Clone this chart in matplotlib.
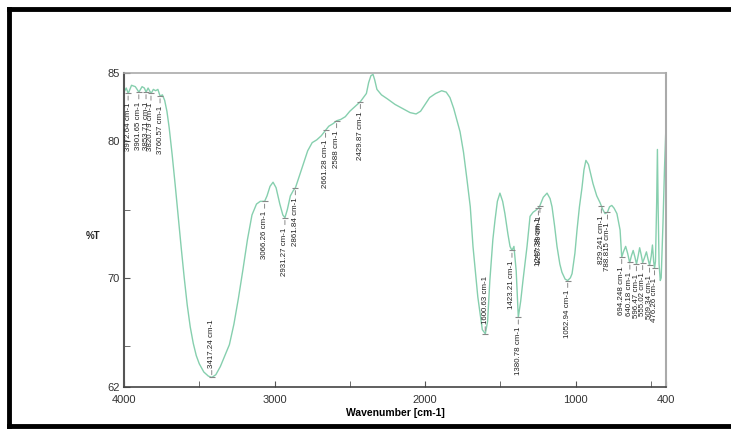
import numpy as np
import matplotlib.pyplot as plt
from matplotlib.lines import Line2D

# spectrum (wavenumber cm-1, %T)
wavenumber = [4000, 3985, 3972, 3950, 3925, 3901, 3880, 3865, 3853, 3840, 3820, 3805,
              3790, 3775, 3760, 3745, 3730, 3715, 3700, 3680, 3660, 3640, 3620, 3600,
              3580, 3560, 3540, 3520, 3500, 3470, 3440, 3417, 3390, 3360, 3330, 3300,
              3270, 3240, 3210, 3180, 3150, 3120, 3095, 3066, 3050, 3030, 3010, 2990,
              2965, 2945, 2931, 2915, 2895, 2875, 2861, 2840, 2810, 2780, 2750, 2720,
              2690, 2661, 2640, 2610, 2588, 2560, 2530, 2500, 2470, 2430, 2410, 2390,
              2375, 2360, 2346, 2335, 2320, 2290, 2250, 2200, 2150, 2100, 2060, 2030,
              2000, 1970, 1930, 1890, 1860, 1835, 1810, 1790, 1768, 1745, 1722, 1700,
              1682, 1650, 1620, 1600, 1585, 1570, 1550, 1536, 1520, 1503, 1485, 1470,
              1450, 1436, 1423, 1410, 1395, 1381, 1365, 1350, 1323, 1303, 1283, 1270,
              1247, 1237, 1215, 1190, 1170, 1157, 1140, 1124, 1105, 1091, 1070, 1053,
              1035, 1024, 1005, 991, 975, 958, 945, 932, 915, 900, 885, 860,
              838, 820, 805, 789, 775, 760, 745, 726, 705, 694, 683, 668,
              655, 641, 630, 618, 606, 596, 585, 575, 565, 555, 542, 530,
              520, 509, 498, 490, 482, 476, 470, 462, 457, 452, 446, 438,
              432, 420, 410, 400]
transmittance = [83.6, 83.9, 83.5, 84.1, 84.0, 83.6, 84.0, 83.9, 83.6, 83.9, 83.5, 83.8,
                 83.7, 83.8, 83.3, 83.4, 83.0, 82.2, 81.0, 79.0, 76.8, 74.5, 72.2, 70.0,
                 68.0, 66.4, 65.2, 64.3, 63.7, 63.1, 62.8, 62.7, 62.9, 63.5, 64.3, 65.1,
                 66.6, 68.5, 70.6, 72.8, 74.6, 75.4, 75.6, 75.6, 76.0, 76.7, 77.0, 76.6,
                 75.4, 74.6, 74.4, 75.0, 76.0, 76.4, 76.6, 77.3, 78.3, 79.3, 79.9, 80.1,
                 80.4, 80.8, 81.1, 81.3, 81.5, 81.6, 81.8, 82.2, 82.5, 82.9, 83.2, 83.5,
                 84.3, 84.8, 84.9, 84.5, 83.8, 83.4, 83.1, 82.7, 82.4, 82.1, 82.0, 82.2,
                 82.7, 83.2, 83.5, 83.7, 83.6, 83.2, 82.4, 81.6, 80.7, 79.2, 77.2, 75.2,
                 72.3, 68.6, 66.2, 65.9, 66.8, 69.8, 72.8, 74.2, 75.6, 76.2, 75.6, 74.7,
                 73.2, 72.3, 72.0, 72.3, 70.5, 67.1, 68.3, 69.8, 72.3, 74.5, 74.8, 74.9,
                 75.1, 75.3, 75.9, 76.2, 75.8, 75.2, 73.8, 72.3, 71.0, 70.4, 69.9, 69.8,
                 70.0, 70.3, 71.8, 73.5, 75.2, 76.6, 77.9, 78.6, 78.3, 77.6, 76.9, 76.0,
                 75.5, 75.0, 74.7, 74.8, 75.2, 75.3, 75.1, 74.7, 73.5, 71.5, 71.9, 72.3,
                 71.8, 71.1, 71.6, 72.0, 71.5, 71.0, 71.6, 72.2, 71.7, 71.1, 71.5, 71.9,
                 71.4, 70.9, 71.6, 72.4, 71.2, 70.7, 71.2, 75.5, 79.4, 75.0, 71.0, 69.8,
                 70.0, 74.0, 78.0, 81.2]

peak_wn = [3972.64, 3901.65, 3853.71, 3820.79, 3760.57, 3417.24, 3066.26, 2931.27,
           2861.84, 2661.28, 2588, 2429.87, 1600.63, 1423.21, 1380.78, 1247.38,
           1237.39, 1052.94, 829.241, 788.815, 694.248, 640.18, 596.47, 555.02,
           509.34, 476.26]
peak_text = ['3972.64 cm-1', '3901.65 cm-1', '3853.71 cm-1', '3820.79 cm-1', '3760.57 cm-1',
             '3417.24 cm-1', '3066.26 cm-1', '2931.27 cm-1', '2861.84 cm-1', '2661.28 cm-1',
             '2588 cm-1', '2429.87 cm-1', '1600.63 cm-1', '1423.21 cm-1', '1380.78 cm-1',
             '1247.38 cm-1', '1237.39 cm-1', '1052.94 cm-1', '829.241 cm-1', '788.815 cm-1',
             '694.248 cm-1', '640.18 cm-1', '596.47 cm-1', '555.02 cm-1', '509.34 cm-1',
             '476.26 cm-1']
label_above = ['3417.24 cm-1', '1600.63 cm-1']

fig = plt.figure(figsize=(7.31, 4.29), dpi=100)
ax = fig.add_axes([124 / 731, 42 / 429, 542 / 731, 314 / 429])

ax.plot(wavenumber, transmittance, color='#86cfae', lw=1.0)

wn_r = np.array(wavenumber)[::-1]
t_r = np.array(transmittance)[::-1]
lab_font = ['Liberation Sans Narrow', 'Liberation Sans', 'DejaVu Sans']
for w, s in zip(peak_wn, peak_text):
    t = np.interp(w, wn_r, t_r)
    sign = 1 if s in label_above else -1
    ax.plot([w], [t], marker='_', ms=4, color='#888888', mew=0.8)
    ax.annotate('', xy=(w, t), xytext=(0, 7 * sign), textcoords='offset points',
                arrowprops=dict(arrowstyle='-', color='#888888', lw=0.7))
    ax.annotate(s, xy=(w, t), xytext=(0, 7 * sign), textcoords='offset points',
                rotation=90, ha='center', va='bottom' if sign > 0 else 'top',
                fontsize=5.7, family=lab_font, color='#222222')

ax.set_xlim(4000, 400)
ax.set_ylim(62, 85)
ax.set_xticks([4000, 3000, 2000, 1000, 400])
ax.set_xticks([3500, 2500, 1500, 500], minor=True)
ax.set_yticks([62, 70, 80, 85])
ax.set_yticks([65, 75], minor=True)
ax.tick_params(which='both', direction='in', length=4, color='#555555',
               labelsize=8, labelcolor='#333333')
ax.tick_params(axis='x', pad=6)
ax.tick_params(axis='y', pad=3)
for lab in ax.get_xticklabels() + ax.get_yticklabels():
    lab.set_family('Liberation Sans')

ax.spines['left'].set_color('#555555')
ax.spines['left'].set_linewidth(1.5)
ax.spines['bottom'].set_color('#444444')
ax.spines['bottom'].set_linewidth(1.2)
ax.spines['top'].set_color('#aaaaaa')
ax.spines['right'].set_color('#aaaaaa')
ax.spines['top'].set_linewidth(1.2)
ax.spines['right'].set_linewidth(1.5)

ax.set_xlabel('Wavenumber [cm-1]', fontsize=7.5, fontweight='bold',
              family='Liberation Sans', labelpad=2)
fig.text(93 / 731, 1 - 236 / 429, '%T', fontsize=7, fontweight='bold',
         family='Liberation Sans', ha='center', va='center', color='#222222')

# black frame around the picture
fig.add_artist(Line2D([8.5 / 731, 1], [1 - 8.5 / 429] * 2, color='black', lw=3.5))
fig.add_artist(Line2D([8.5 / 731] * 2, [3 / 429, 1 - 8.5 / 429], color='black', lw=3.5))
fig.add_artist(Line2D([8.5 / 731, 1], [3 / 429] * 2, color='black', lw=3.5))

fig.savefig('out.png', dpi=100)
